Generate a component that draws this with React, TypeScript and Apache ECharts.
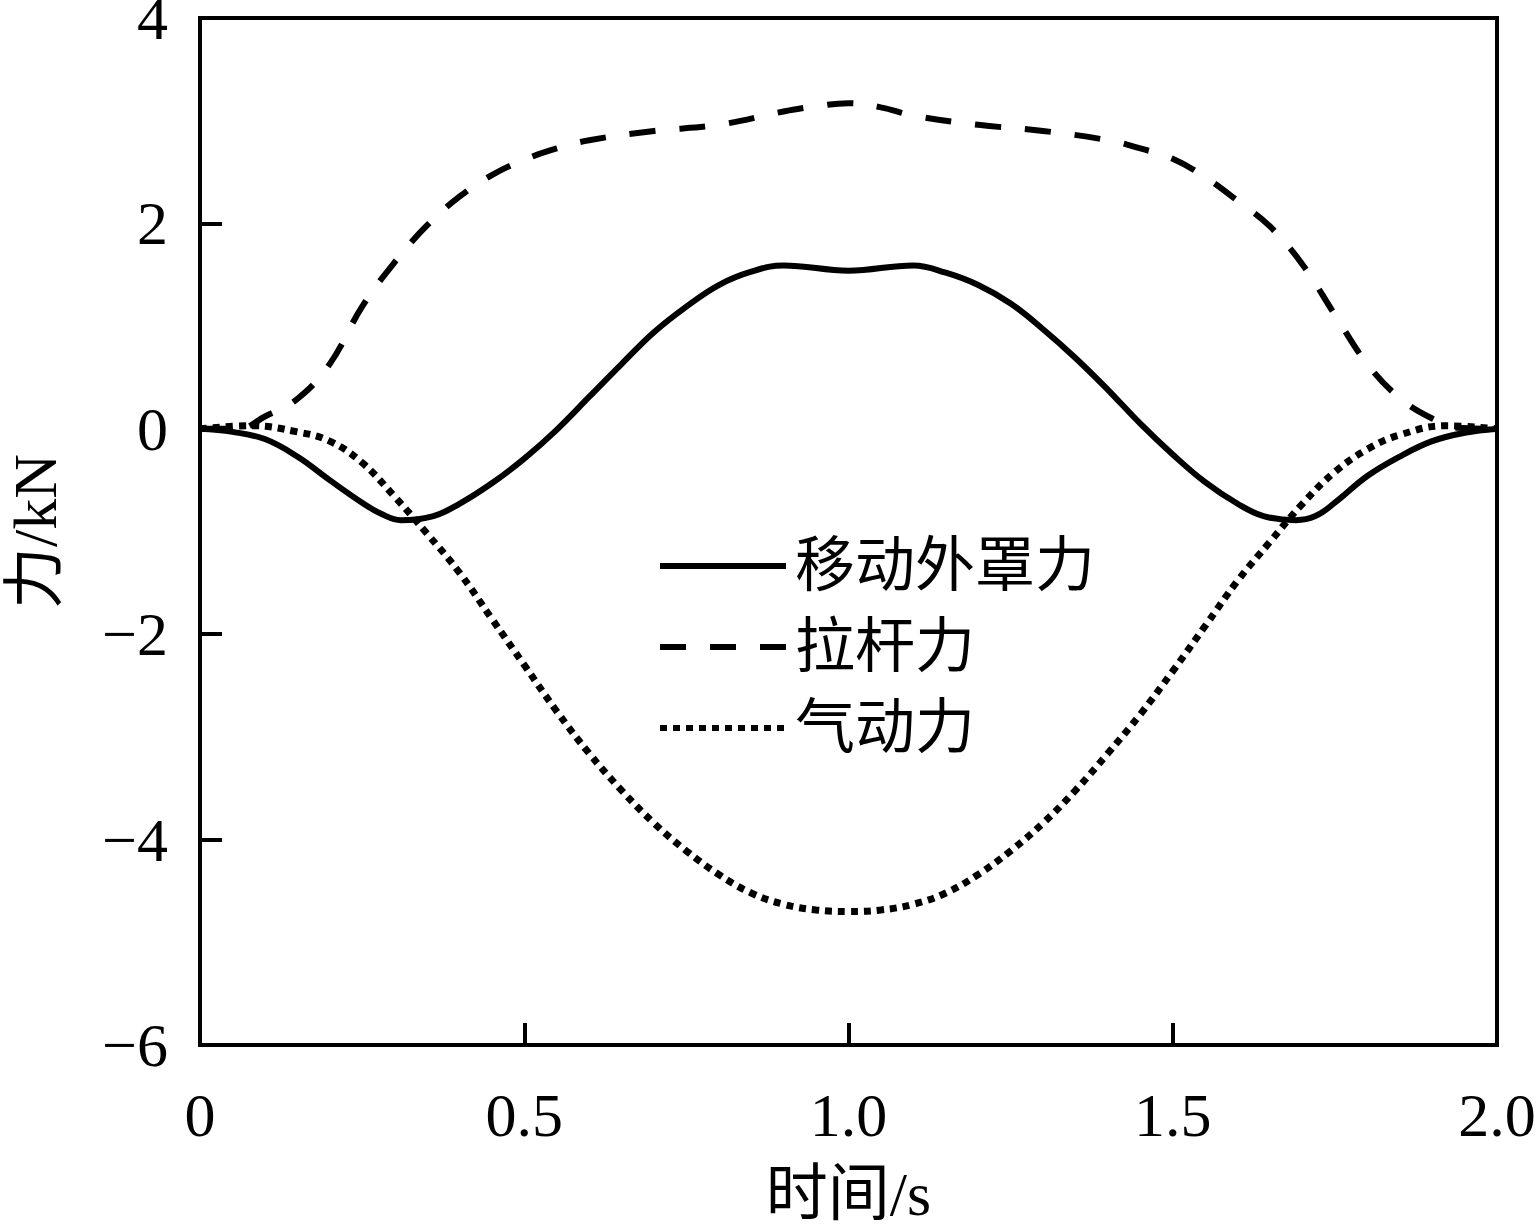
import React, { useEffect, useRef } from "react";
import * as echarts from "echarts";

// 移动外罩力 (kN)
const coverT = [
  0, 0.05, 0.1, 0.15, 0.2, 0.25, 0.28, 0.31, 0.36, 0.4,
  0.45, 0.5, 0.55, 0.6, 0.65, 0.7, 0.75, 0.8, 0.85, 0.9,
  1.0, 1.1, 1.15, 1.2, 1.25, 1.3, 1.35, 1.4, 1.45, 1.5,
  1.55, 1.6, 1.64, 1.69, 1.72, 1.75, 1.8, 1.85, 1.9, 1.95, 2.0,
];
const coverF = [
  0, -0.03, -0.1, -0.27, -0.5, -0.72, -0.83, -0.89, -0.85, -0.73,
  -0.53, -0.29, -0.01, 0.31, 0.63, 0.94, 1.19, 1.4, 1.53, 1.59,
  1.54, 1.59, 1.52, 1.4, 1.22, 0.97, 0.69, 0.38, 0.05, -0.25,
  -0.52, -0.73, -0.85, -0.89, -0.85, -0.72, -0.46, -0.27, -0.12, -0.04, 0,
];

// 拉杆力 (kN)
const rodT = [
  0, 0.06, 0.1, 0.15, 0.2, 0.25, 0.3, 0.35, 0.4, 0.45,
  0.5, 0.55, 0.6, 0.7, 0.8, 0.9, 0.95, 1.0, 1.05, 1.1,
  1.2, 1.3, 1.4, 1.45, 1.5, 1.55, 1.6, 1.65, 1.7, 1.75,
  1.8, 1.85, 1.9, 1.94, 2.0,
];
const rodF = [
  0, 0.0, 0.12, 0.29, 0.63, 1.19, 1.62, 1.98, 2.26, 2.47,
  2.62, 2.73, 2.81, 2.9, 2.96, 3.09, 3.14, 3.17, 3.13, 3.05,
  2.96, 2.9, 2.81, 2.73, 2.63, 2.45, 2.22, 1.97, 1.6, 1.11,
  0.63, 0.3, 0.1, 0.01, 0,
];

// 气动力 (kN)
const aeroT = [
  0, 0.08, 0.15, 0.2, 0.25, 0.3, 0.35, 0.4, 0.45, 0.5,
  0.55, 0.6, 0.65, 0.7, 0.75, 0.8, 0.85, 0.9, 0.95, 1.0,
  1.05, 1.1, 1.15, 1.2, 1.25, 1.3, 1.35, 1.4, 1.45, 1.5,
  1.55, 1.6, 1.65, 1.7, 1.75, 1.8, 1.85, 1.92, 2.0,
];
const aeroF = [
  0, 0.03, -0.03, -0.12, -0.33, -0.66, -1.02, -1.4, -1.85, -2.3,
  -2.75, -3.16, -3.52, -3.84, -4.11, -4.34, -4.52, -4.63, -4.685, -4.7,
  -4.685, -4.63, -4.52, -4.34, -4.11, -3.84, -3.52, -3.16, -2.78, -2.36,
  -1.92, -1.48, -1.1, -0.73, -0.42, -0.2, -0.06, 0.03, 0,
];

const seriesNames = ["移动外罩力", "拉杆力", "气动力"];
const xTicks = ["0", "0.5", "1.0", "1.5", "2.0"];

const FONT = '"Liberation Serif", "Times New Roman", "Noto Sans CJK SC", serif';

function pairs(ts: number[], ys: number[]) {
  return ts.map((t, i) => [t, ys[i]]);
}

export default function App() {
  const ref = useRef<HTMLDivElement>(null);

  useEffect(() => {
    if (!ref.current) return;
    const chart = echarts.init(ref.current, null, { renderer: "svg" });
    const option = {
      animation: false,
      backgroundColor: "#fff",
      grid: {
        left: 200,
        top: 18,
        right: 43,
        bottom: 185,
        show: true,
        borderColor: "#000",
        borderWidth: 4,
        containLabel: false,
        outerBoundsMode: "none",
      },
      legend: {
        show: true,
        orient: "vertical",
        left: 652,
        top: 531,
        itemWidth: 126,
        itemHeight: 20,
        itemGap: 21,
        data: seriesNames,
        itemStyle: { opacity: 0 },
        lineStyle: { width: 6 },
        textStyle: {
          fontFamily: FONT,
          fontSize: 60,
          lineHeight: 60,
          color: "#000",
          padding: [0, 0, 0, 4],
        },
      },
      xAxis: {
        type: "value",
        min: 0,
        max: 2,
        interval: 0.5,
        name: "时间/s",
        nameLocation: "middle",
        nameGap: 118,
        nameTextStyle: { fontFamily: FONT, fontSize: 62, color: "#000" },
        axisLine: { show: true, onZero: false, lineStyle: { color: "#000", width: 4 } },
        axisTick: { show: true, inside: true, length: 22, lineStyle: { color: "#000", width: 4 } },
        axisLabel: {
          margin: 39,
          fontFamily: FONT,
          fontSize: 62,
          color: "#000",
          formatter: (v: number) => xTicks[Math.round(v / 0.5)],
        },
        splitLine: { show: false },
      },
      yAxis: {
        type: "value",
        min: -6,
        max: 4,
        interval: 2,
        name: "力/kN",
        nameLocation: "middle",
        nameGap: 134,
        nameTextStyle: { fontFamily: FONT, fontSize: 62, color: "#000" },
        axisLine: { show: true, onZero: false, lineStyle: { color: "#000", width: 4 } },
        axisTick: { show: true, inside: true, length: 22, lineStyle: { color: "#000", width: 4 } },
        axisLabel: {
          margin: 32,
          fontFamily: FONT,
          fontSize: 62,
          color: "#000",
          formatter: (v: number) => (v < 0 ? "\u2212" + Math.abs(v) : String(v)),
        },
        splitLine: { show: false },
      },
      series: [
        {
          name: seriesNames[0],
          type: "line",
          data: pairs(coverT, coverF),
          smooth: 0.4,
          symbol: "none",
          z: 4,
          lineStyle: { color: "#000", width: 6, type: "solid" },
          itemStyle: { color: "#000" },
        },
        {
          name: seriesNames[1],
          type: "line",
          data: pairs(rodT, rodF),
          smooth: 0.4,
          symbol: "none",
          z: 3,
          lineStyle: { color: "#000", width: 6, type: [26, 24], cap: "butt" },
          itemStyle: { color: "#000" },
        },
        {
          name: seriesNames[2],
          type: "line",
          data: pairs(aeroT, aeroF),
          smooth: 0.4,
          symbol: "none",
          z: 2,
          lineStyle: { color: "#000", width: 7, type: [7, 6], cap: "butt" },
          itemStyle: { color: "#000" },
        },
      ],
    };
    chart.setOption(option as any);
    return () => chart.dispose();
  }, []);

  return (
    <div
      ref={ref}
      style={{ position: "fixed", left: 0, top: 0, width: 1540, height: 1230, background: "#fff" }}
    />
  );
}
